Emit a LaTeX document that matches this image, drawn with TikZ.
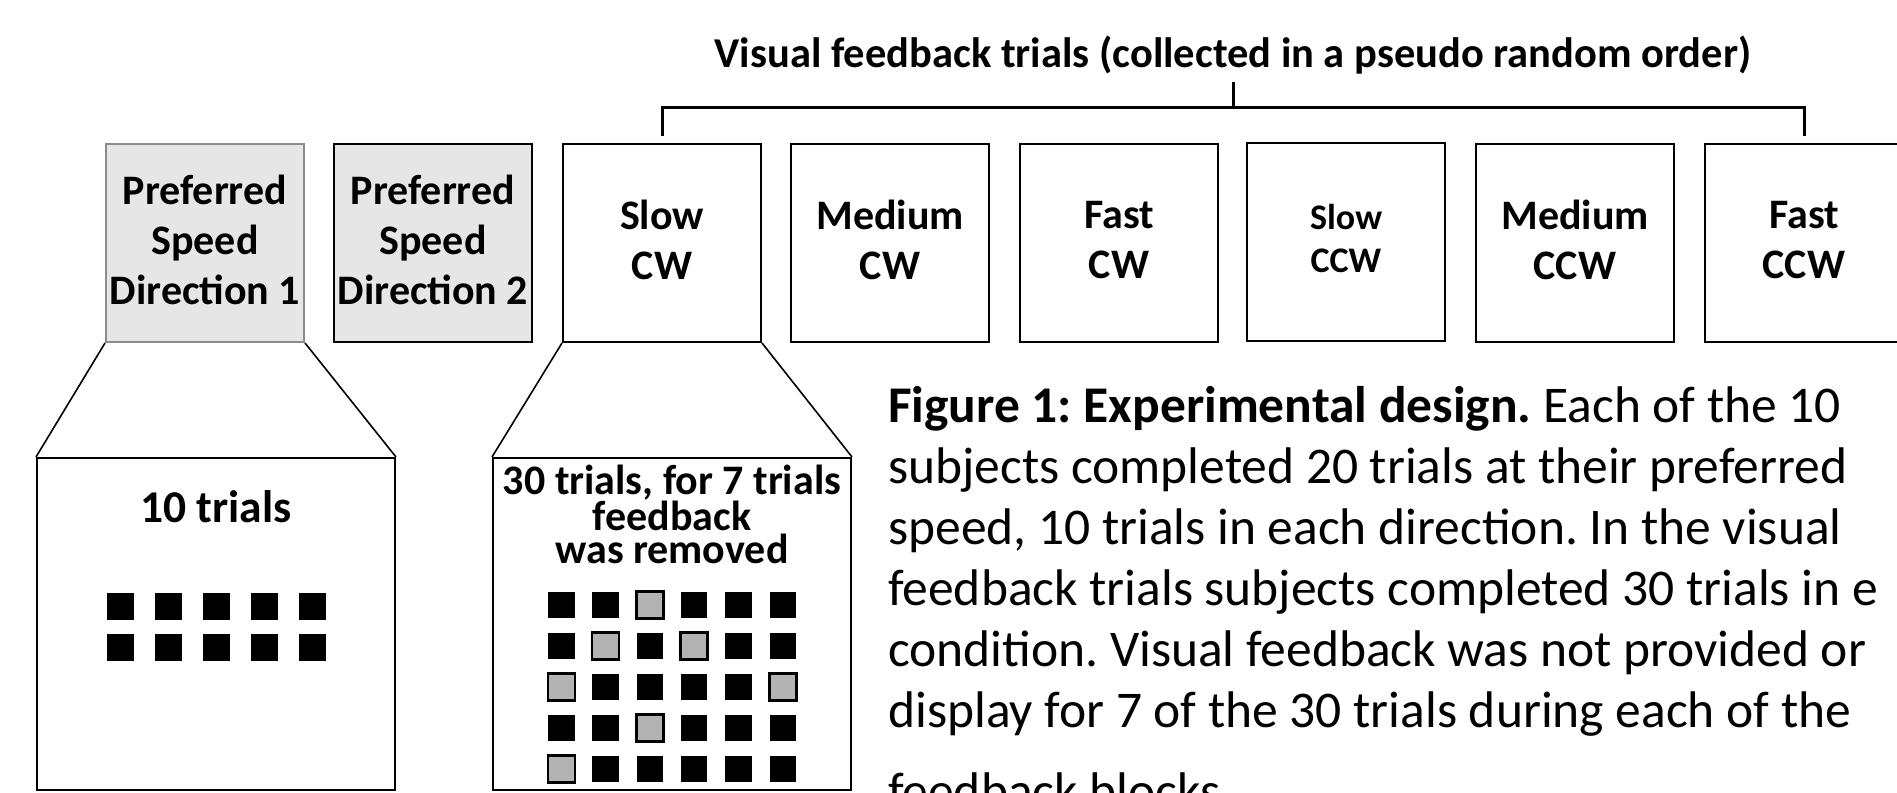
\documentclass[tikz,border=0pt]{standalone}
\usepackage{fontspec}
\setmainfont{Carlito}
\usetikzlibrary{positioning}
\definecolor{boxgray}{HTML}{E6E6E6}
\definecolor{rimgray}{HTML}{8C8C8C}
\definecolor{offgray}{HTML}{B3B3B3}
\frenchspacing

\begin{document}
\begin{tikzpicture}[x=1pt, y=-1pt,
  cond/.style={draw, line width=2pt, minimum width=198pt, minimum height=198pt,
               inner sep=0pt, align=center, font=\bfseries\fontsize{42}{50}\selectfont,
               execute at end node={\rule[-7pt]{0pt}{7pt}}},
  block/.style={draw, line width=2pt, minimum width=358pt, minimum height=332pt, inner sep=0pt},
  funnel/.style={line width=1.6pt},
  bracket/.style={line width=3pt},
  caption/.style={anchor=base west, inner sep=0pt, font=\fontsize{51.5}{61}\selectfont},
]
  \clip (0,0) rectangle (1897,792);
  \fill[white] (0,0) rectangle (1897,792);

  % conditions
  \node[cond, fill=boxgray, draw=rimgray] (pd1) at (205,243) {Preferred\\Speed\\Direction 1};
  \node[cond, fill=boxgray] (pd2) at (433,243) {Preferred\\Speed\\Direction 2};
  \node[cond] (scw) at (662,243) {Slow\\CW};
  \node[cond] (mcw) at (890,243) {Medium\\CW};
  \node[cond] (fcw) at (1119,243) {Fast\\CW};
  \node[cond, font=\bfseries\fontsize{36}{43}\selectfont] (sccw) at (1346,242) {Slow\\CCW};
  \node[cond] (mccw) at (1575,243) {Medium\\CCW};
  \node[cond] (fccw) at (1804,243) {Fast\\CCW};

  % bracket over the feedback trials
  \node[anchor=base, inner sep=8pt, font=\bfseries\fontsize{42.5}{50}\selectfont] (vft) at (1233,67)
    {Visual feedback trials (collected in a pseudo random order)};
  \coordinate (bar) at ([yshift=36pt]scw.north);
  \draw[bracket] ([yshift=7pt]scw.north) -- (bar) -| ([yshift=7pt]fccw.north);
  \draw[bracket] (vft.south) -- (vft.south |- bar);

  % zoomed blocks
  \node[block] (tenblk) at (216,624) {};
  \node[block] (thirtyblk) at (672,624) {};
  \draw[funnel] (pd1.south west) -- (tenblk.north west);
  \draw[funnel] (pd1.south east) -- (tenblk.north east);
  \draw[funnel] (scw.south west) -- (thirtyblk.north west);
  \draw[funnel] (scw.south east) -- (thirtyblk.north east);

  \node[anchor=base, font=\bfseries\fontsize{45.5}{50}\selectfont] (tentxt) at (216,522) {10 trials};
  \node[anchor=base, align=center, inner sep=0pt, font=\bfseries\fontsize{42}{32.5}\selectfont] (thirtytxt)
    at (672,563) {30 trials, for 7 trials\\feedback\\was removed};

  % trial squares
  \foreach \c in {0,...,4}
    \foreach \r in {0,1}
      \fill ([shift={({48*(\c-2)-13.5},{41*(\r-0.5)-10.5})}]tenblk.center) rectangle ++(27,27);
  \foreach \c in {0,...,5}
    \foreach \r in {0,...,4}
      \fill ([shift={({44.3*(\c-2.5)-13.25},{62.75+41*(\r-2)-13.25})}]thirtyblk.center) rectangle ++(26.5,26.5);
  \foreach \r/\c in {0/2,1/1,1/3,2/0,2/5,3/2,4/0}
    \filldraw[fill=offgray, line width=2.5pt]
      ([shift={({44.3*(\c-2.5)-13.5},{62.75+41*(\r-2)-13.5})}]thirtyblk.center) rectangle ++(27,27);

  % caption
  \foreach \txt [count=\k from 0] in {
      {\textbf{Figure 1: Experimental design.} Each of the 10},
      {subjects completed 20 trials at their preferred},
      {speed, 10 trials in each direction. In the visual},
      {feedback trials subjects completed 30 trials in e},
      {condition. Visual feedback was not provided or},
      {display for 7 of the 30 trials during each of the}}
    \node[caption] (cap\k) at (888,{422+61*\k}) {\txt};
  \node[caption] (cap6) at (888,808) {feedback blocks.};
\end{tikzpicture}
\end{document}
